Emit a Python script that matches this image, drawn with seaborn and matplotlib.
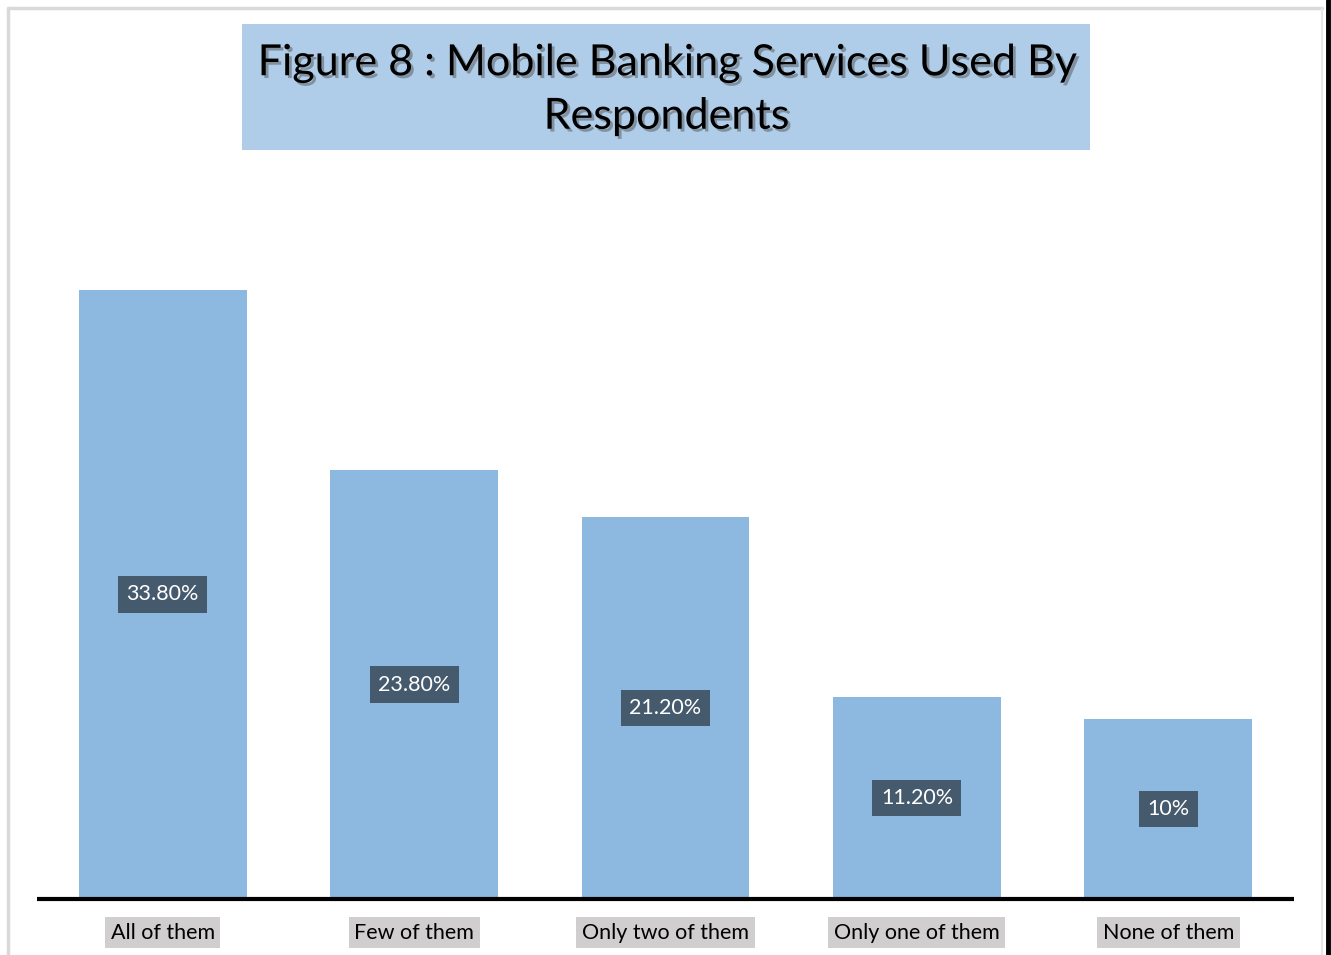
import matplotlib
matplotlib.use("Agg")
import matplotlib.pyplot as plt
import matplotlib.patheffects as pe
from matplotlib.lines import Line2D
import seaborn as sns
import pandas as pd

categories = ["All of them", "Few of them", "Only two of them", "Only one of them", "None of them"]
values = [33.8, 23.8, 21.2, 11.2, 10.0]
value_labels = ["33.80%", "23.80%", "21.20%", "11.20%", "10%"]
title_text = "Figure 8 : Mobile Banking Services Used By\nRespondents"

sns.set_theme(style="white")
plt.rcParams["font.family"] = ["Lato", "DejaVu Sans"]

W, H = 1331, 955
fig = plt.figure(figsize=(W / 100, H / 100), dpi=100)

# axes: x from 37 to 1294 px, baseline at y=899 px, 18.02 px per percent
ax_left, ax_right = 37, 1294
base_y = 899
px_per_unit = 18.02
ymax = 40
top_y = base_y - ymax * px_per_unit
ax = fig.add_axes([ax_left / W, 1 - base_y / H, (ax_right - ax_left) / W, (base_y - top_y) / H])

df = pd.DataFrame({"category": categories, "value": values})
sns.barplot(data=df, x="category", y="value", color="#8db8df", saturation=1,
            width=0.668, ax=ax, edgecolor="none")
ax.set_xlim(-0.5, 4.5)
ax.set_ylim(0, ymax)
ax.set_xlabel("")
ax.set_ylabel("")
ax.set_yticks([])
for s in ["top", "right", "left"]:
    ax.spines[s].set_visible(False)
ax.spines["bottom"].set_linewidth(3)
ax.spines["bottom"].set_color("black")
ax.spines["bottom"].set_capstyle("butt")
ax.tick_params(axis="x", length=0, pad=17)
for t in ax.get_xticklabels():
    t.set_fontsize(15.5)
    t.set_color("black")
    t.set_bbox(dict(facecolor="#d0cece", edgecolor="none", pad=4))

for i, (v, lab) in enumerate(zip(values, value_labels)):
    ax.text(i, v / 2, lab, ha="center", va="center", fontsize=15.5, color="white",
            bbox=dict(facecolor="#465a6e", edgecolor="none", pad=6))

# title box
fig.patches.append(matplotlib.patches.Rectangle(
    (242 / W, 1 - 150 / H), (1090 - 242) / W, (150 - 24) / H,
    transform=fig.transFigure, facecolor="#afcde9", edgecolor="none", zorder=1))
fig.text(666 / W, 1 - 90 / H, title_text, ha="center", va="center", fontsize=31,
         color="black", linespacing=1.5, zorder=3,
         path_effects=[pe.SimplePatchShadow(offset=(2, -2), shadow_rgbFace="#555555", alpha=0.5),
                       pe.Normal()])

# frame lines
fig.lines.append(Line2D([8 / W, 1322 / W], [1 - 8 / H, 1 - 8 / H], transform=fig.transFigure,
                        color="#d9d9d9", lw=2.5))
fig.lines.append(Line2D([8 / W, 8 / W], [1 - 8 / H, 0], transform=fig.transFigure,
                        color="#d9d9d9", lw=2.5))
fig.lines.append(Line2D([1322 / W, 1322 / W], [1 - 8 / H, 0], transform=fig.transFigure,
                        color="#e6e6e6", lw=1.5))
fig.lines.append(Line2D([1327.5 / W, 1327.5 / W], [1, 0], transform=fig.transFigure,
                        color="black", lw=3.5))

fig.savefig("out.png", dpi=100, facecolor="white")
